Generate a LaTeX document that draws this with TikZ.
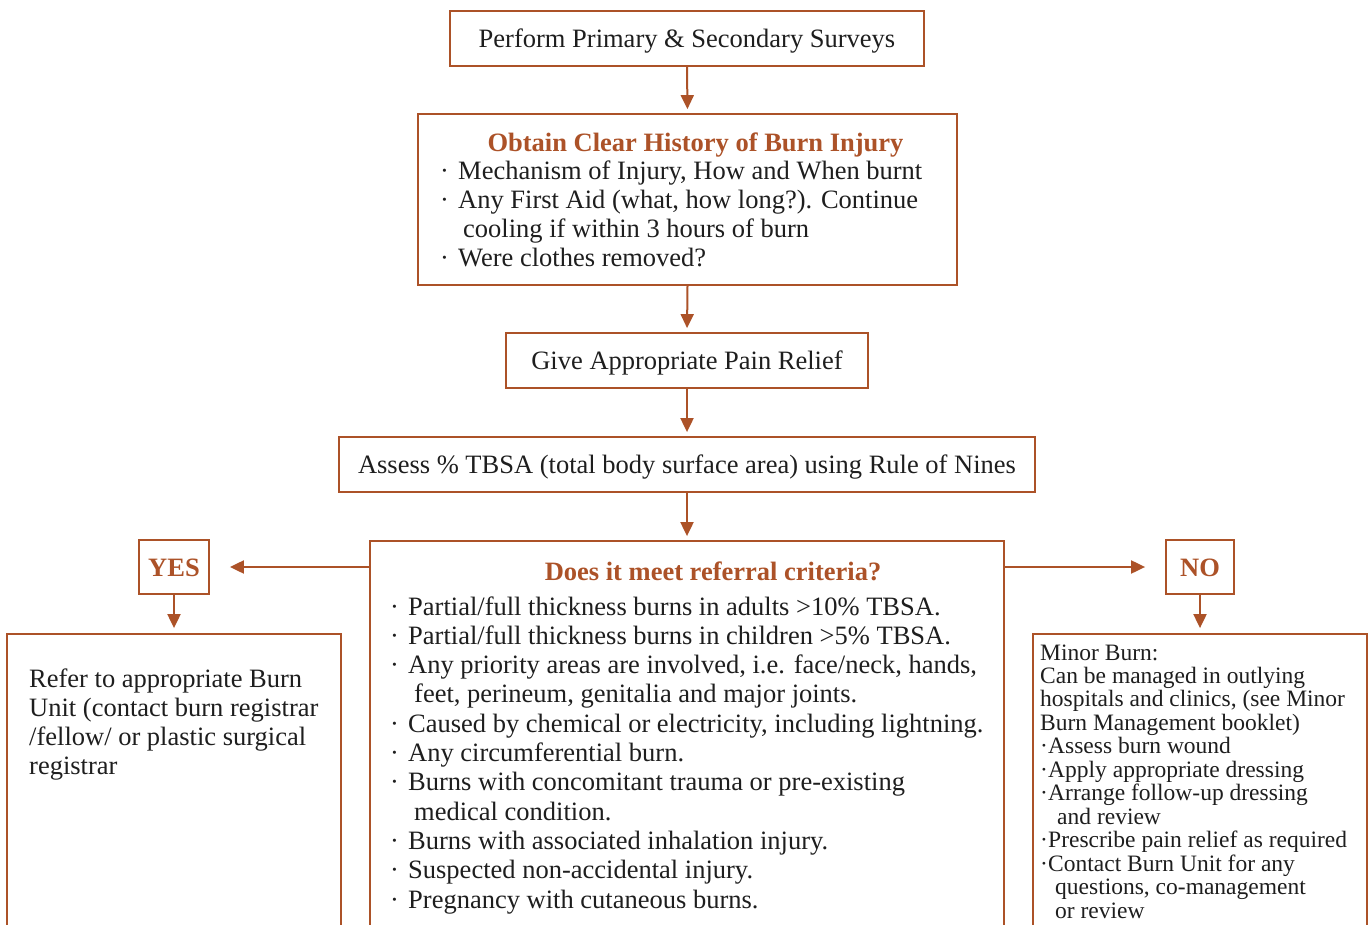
\documentclass[tikz,border=0pt]{standalone}
\usepackage{fontspec}
\setmainfont{Liberation Serif}
\usetikzlibrary{arrows.meta}
\definecolor{brn}{RGB}{172,82,40}
\definecolor{ink}{RGB}{30,30,30}
\begin{document}
\begin{tikzpicture}[x=1pt,y=-1pt,
  box/.style={draw=brn,line width=1.8pt,inner sep=0pt,text=ink,
    text height=18pt,text depth=0pt,
    font=\fontsize{26.5}{29}\selectfont},
  ans/.style={box,text=brn,font=\fontsize{26.5}{29}\selectfont\bfseries},
  txt/.style={anchor=base west,inner sep=0pt,text=ink,font=\fontsize{26.5}{29}\selectfont},
  stxt/.style={anchor=base west,inner sep=0pt,text=ink,font=\fontsize{23.5}{23.5}\selectfont},
  ttl/.style={anchor=base,inner sep=0pt,text=brn,font=\fontsize{26.5}{29}\selectfont\bfseries},
  arr/.style={draw=brn,line width=2pt,-{Triangle[length=14pt,width=13pt]}}]
\useasboundingbox (0,0) rectangle (1368,925);
\clip (0,0) rectangle (1368,925);
% boxes
\node[box,minimum width=474pt,minimum height=55pt] (prim) at (687,38.5) {Perform Primary \& Secondary Surveys};
\node[box,minimum width=539pt,minimum height=171pt] (hist) at (687.5,199.5) {};
\node[box,minimum width=362pt,minimum height=55pt] (pain) at (687,360.5) {Give Appropriate Pain Relief};
\node[box,minimum width=696pt,minimum height=55pt] (tbsa) at (687,464.5) {Assess \% TBSA (total body surface area) using Rule of Nines};
\node[box,minimum width=634pt,minimum height=419pt] (crit) at (687,750.5) {};
\node[ans,minimum width=70pt,minimum height=54pt] (yes) at (174,567) {YES};
\node[ans,minimum width=68pt,minimum height=54pt] (no) at (1200,567) {NO};
\node[box,minimum width=334pt,minimum height=326pt] (refer) at (174,797) {};
\node[box,minimum width=334pt,minimum height=326pt] (minor) at (1200,797) {};
% connectors
\draw[arr,shorten >=4pt] (prim.south) -- (hist.north);
\draw[arr,shorten >=4pt] (hist.south) -- (pain.north);
\draw[arr,shorten >=4pt] (pain.south) -- (tbsa.north);
\draw[arr,shorten >=4pt] (tbsa.south) -- (crit.north);
\draw[arr,shorten >=20pt] (yes.east -| crit.west) -- (yes.east);
\draw[arr,shorten >=20pt] (no.west -| crit.east) -- (no.west);
\draw[arr,shorten >=5pt] (yes.south) -- (yes.south |- refer.north);
\draw[arr,shorten >=5pt] (no.south) -- (no.south |- minor.north);
% history text
\node[ttl] (ht) at (695.5,152) {Obtain Clear History of Burn Injury};
\node[txt] (hb1) at (440,180) {·};
\node[txt] (h1) at (458,180) {Mechanism of Injury, How and When burnt};
\node[txt] (hb2) at (440,209) {·};
\node[txt] (h2) at (458,209) {Any First Aid (what, how long?). Continue};
\node[txt] (h3) at (463,238) {cooling if within 3 hours of burn};
\node[txt] (hb4) at (440,267) {·};
\node[txt] (h4) at (458,267) {Were clothes removed?};
% criteria text
\node[ttl] (ct) at (713,580) {Does it meet referral criteria?};
\node[txt] (cb1) at (390,615) {·};
\node[txt] (c1) at (408,615) {Partial/full thickness burns in adults >10\% TBSA.};
\node[txt] (cb2) at (390,644.3) {·};
\node[txt] (c2) at (408,644.3) {Partial/full thickness burns in children >5\% TBSA.};
\node[txt] (cb3) at (390,673.6) {·};
\node[txt] (c3) at (408,673.6) {Any priority areas are involved, i.e. face/neck, hands,};
\node[txt] (c4) at (414,702.9) {feet, perineum, genitalia and major joints.};
\node[txt] (cb5) at (390,732.2) {·};
\node[txt] (c5) at (408,732.2) {Caused by chemical or electricity, including lightning.};
\node[txt] (cb6) at (390,761.5) {·};
\node[txt] (c6) at (408,761.5) {Any circumferential burn.};
\node[txt] (cb7) at (390,790.8) {·};
\node[txt] (c7) at (408,790.8) {Burns with concomitant trauma or pre-existing};
\node[txt] (c8) at (414,820.1) {medical condition.};
\node[txt] (cb9) at (390,849.4) {·};
\node[txt] (c9) at (408,849.4) {Burns with associated inhalation injury.};
\node[txt] (cb10) at (390,878.7) {·};
\node[txt] (c10) at (408,878.7) {Suspected non-accidental injury.};
\node[txt] (cb11) at (390,908) {·};
\node[txt] (c11) at (408,908) {Pregnancy with cutaneous burns.};
% refer text
\node[txt] (r1) at (29,687) {Refer to appropriate Burn};
\node[txt] (r2) at (29,716) {Unit (contact burn registrar};
\node[txt] (r3) at (29,745) {/fellow/ or plastic surgical};
\node[txt] (r4) at (29,774) {registrar};
% minor text
\node[stxt] (m0) at (1040,660) {Minor Burn:};
\node[stxt] (m1) at (1040,683.5) {Can be managed in outlying};
\node[stxt] (m2) at (1040,706.9) {hospitals and clinics, (see Minor};
\node[stxt] (m3) at (1040,730.4) {Burn Management booklet)};
\node[stxt] (mb4) at (1040,753.8) {·};
\node[stxt] (m4) at (1048,753.8) {Assess burn wound};
\node[stxt] (mb5) at (1040,777.3) {·};
\node[stxt] (m5) at (1048,777.3) {Apply appropriate dressing};
\node[stxt] (mb6) at (1040,800.7) {·};
\node[stxt] (m6) at (1048,800.7) {Arrange follow-up dressing};
\node[stxt] (m7) at (1057,824.2) {and review};
\node[stxt] (mb8) at (1040,847.6) {·};
\node[stxt] (m8) at (1048,847.6) {Prescribe pain relief as required};
\node[stxt] (mb9) at (1040,871.1) {·};
\node[stxt] (m9) at (1048,871.1) {Contact Burn Unit for any};
\node[stxt] (m10) at (1055,894.5) {questions, co-management};
\node[stxt] (m11) at (1055,918) {or review};
\end{tikzpicture}
\end{document}
